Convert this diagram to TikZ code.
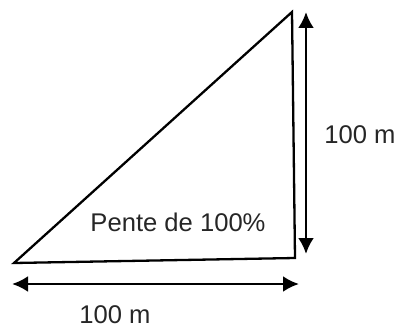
\documentclass[tikz,border=0pt]{standalone}
\usepackage{fontspec}
\setmainfont{Liberation Sans}
\usetikzlibrary{arrows.meta}
\tikzset{dimarrow/.style={line width=2.8pt,{Latex[length=16pt,width=16pt]}-{Latex[length=16pt,width=16pt]}},
lbl/.style={font=\fontsize{25.6}{30}\selectfont,text=black!85}}

\begin{document}
\begin{tikzpicture}[x=1pt,y=-1pt]
\useasboundingbox (0,0) rectangle (398,329);
\coordinate (bl) at (14,263);
\coordinate (br) at (295,258);
\coordinate (tr) at (292,12);
\draw[line width=2.3pt,line join=miter] (bl) -- (tr) -- (br) -- cycle;
\coordinate (vt) at (306,12);
\coordinate (vb) at (306,254);
\draw[dimarrow] (vt) -- (vb);
\coordinate (hl) at (12,284);
\coordinate (hr) at (299,284);
\draw[dimarrow] (hl) -- (hr);
\node[lbl] (pente) at (178,222) {Pente de 100\%};
\node[lbl] (haut) at (360,135) {100 m};
\node[lbl] (base) at (115,315) {100 m};
\end{tikzpicture}
\end{document}
